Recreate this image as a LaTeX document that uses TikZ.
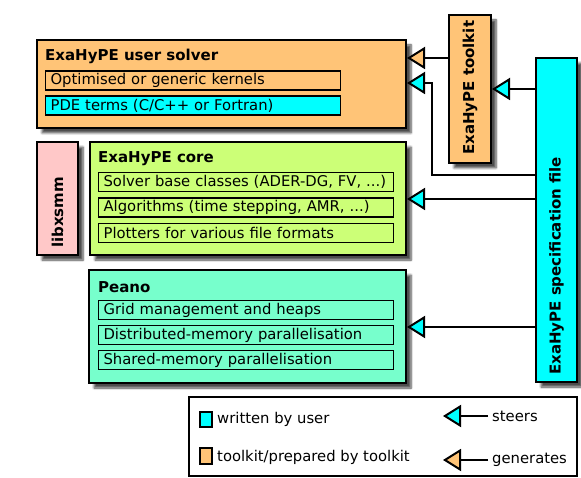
\documentclass[tikz,border=0pt]{standalone}
\usepackage{fontspec}
\setmainfont{DejaVu Sans}
\usetikzlibrary{arrows.meta,shadows.blur}

\definecolor{tkorange}{RGB}{255,196,119}
\definecolor{usercyan}{RGB}{0,255,255}
\definecolor{corelime}{RGB}{204,255,119}
\definecolor{peanomint}{RGB}{119,255,204}
\definecolor{libpink}{RGB}{255,200,200}

\begin{document}
\begin{tikzpicture}[x=1pt,y=-1pt,
    font=\fontsize{14.8}{17}\selectfont,
    block/.style={draw,line width=2pt,inner sep=0pt,
      blur shadow={shadow xshift=5pt,shadow yshift=-5pt,shadow blur steps=6,shadow opacity=70}},
    part/.style={draw,line width=1.2pt,anchor=west,minimum height=19pt,
      text width=285pt,inner xsep=5pt,inner ysep=0pt,align=left},
    title/.style={anchor=west,inner sep=0pt,font=\fontsize{15}{17}\selectfont\bfseries},
    vtitle/.style={anchor=west,rotate=90,inner sep=0pt,font=\fontsize{15}{17}\selectfont\bfseries},
    steers/.style={line width=2pt,-{Triangle[length=18pt,width=22pt,fill=usercyan,line width=2pt]}},
    generates/.style={line width=2pt,-{Triangle[length=18pt,width=22pt,fill=tkorange,line width=2pt]}}]
\useasboundingbox (0,0) rectangle (581,478);

% boxes
\node[block,fill=tkorange,minimum width=369pt,minimum height=88pt] (solver) at (221.5,84) {};
\node[title] (solvertitle) at (45,56) {ExaHyPE user solver};
\node[part,fill=tkorange] (kernels) at (45,80.5) {Optimised or generic kernels};
\node[part,fill=usercyan] (pde) at (45,105.5) {PDE terms (C/C++ or Fortran)};

\node[block,fill=tkorange,minimum width=42pt,minimum height=148pt] (toolkit) at (470,89) {};
\node[vtitle] (toolkittitle) at (470,155) {ExaHyPE toolkit};

\node[block,fill=usercyan,minimum width=41pt,minimum height=324pt] (spec) at (556.5,220) {};
\node[vtitle] (spectitle) at (556.5,375) {ExaHyPE specification file};

\node[block,fill=libpink,minimum width=41pt,minimum height=113pt] (libxsmm) at (57.5,198.5) {};
\node[vtitle] (libxsmmtitle) at (57.5,248) {libxsmm};

\node[block,fill=corelime,minimum width=316pt,minimum height=113pt] (core) at (248,198.5) {};
\node[title] (coretitle) at (98,159) {ExaHyPE core};
\node[part] (solverbase) at (98,182) {Solver base classes (ADER-DG, FV, ...)};
\node[part] (algorithms) at (98,207.5) {Algorithms (time stepping, AMR, ...)};
\node[part] (plotters) at (98,233) {Plotters for various file formats};

\node[block,fill=peanomint,minimum width=317pt,minimum height=113pt] (peano) at (247.5,326.5) {};
\node[title] (peanotitle) at (98,287) {Peano};
\node[part] (grid) at (98,310) {Grid management and heaps};
\node[part] (distributed) at (98,335) {Distributed-memory parallelisation};
\node[part] (shared) at (98,360) {Shared-memory parallelisation};

% connectors
\coordinate (bendlow) at (432,175);
\coordinate (bendhigh) at (432,83);
\draw[generates] (toolkit.west |- 0,58) -- (solver.east |- 0,58);
\draw[steers] (spec.west |- 0,89) -- (toolkit.east |- 0,89);
\draw[steers] (spec.west |- bendlow) -- (bendlow) -- (bendhigh) -- (solver.east |- bendhigh);
\draw[steers] (spec.west |- 0,199) -- (core.east |- 0,199);
\draw[steers] (spec.west |- 0,327) -- (peano.east |- 0,327);

% legend
\node[draw,line width=1.2pt,inner sep=0pt,minimum width=388pt,minimum height=79pt] (legend) at (383,436.5) {};
\node[draw,line width=2pt,fill=usercyan,inner sep=0pt,minimum width=12pt,minimum height=15pt] (userkey) at (205.5,419.5) {};
\node[anchor=west,inner sep=0pt] (usertext) at (217,419) {written by user};
\node[draw,line width=2pt,fill=tkorange,inner sep=0pt,minimum width=12pt,minimum height=16pt] (toolkitkey) at (205.5,455.5) {};
\node[anchor=west,inner sep=0pt] (toolkittext) at (217,457) {toolkit/prepared by toolkit};
\node[anchor=west,inner sep=0pt] (steerstext) at (492,416) {steers};
\node[anchor=west,inner sep=0pt] (generatestext) at (492,460) {generates};
\draw[steers] (steerstext.west) ++(-4,0) coordinate (steersend) -- ++(-45,0);
\draw[generates] (generatestext.west) ++(-4,0) coordinate (generatesend) -- ++(-45,0);
\end{tikzpicture}
\end{document}
